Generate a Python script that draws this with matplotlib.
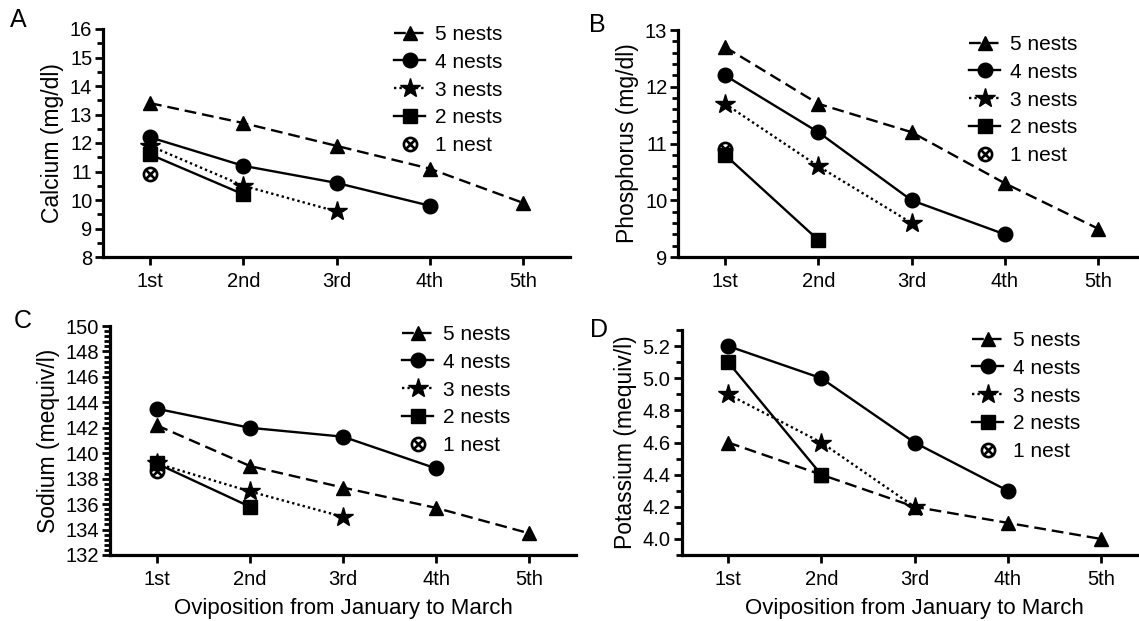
import matplotlib
matplotlib.use('Agg')
import matplotlib.pyplot as plt
from matplotlib.path import Path
from matplotlib.ticker import MultipleLocator, FormatStrFormatter, FixedLocator

plt.rcParams['font.family'] = ['Liberation Sans', 'DejaVu Sans']

# ---------------- data ----------------
ordinals = ['1st', '2nd', '3rd', '4th', '5th']
nest_labels = ['5 nests', '4 nests', '3 nests', '2 nests', '1 nest']

calcium_5 = [13.4, 12.7, 11.9, 11.1, 9.9]
calcium_4 = [12.2, 11.2, 10.6, 9.8]
calcium_3 = [11.9, 10.5, 9.6]
calcium_2 = [11.6, 10.2]
calcium_1 = [10.9]

phosphorus_5 = [12.7, 11.7, 11.2, 10.3, 9.5]
phosphorus_4 = [12.2, 11.2, 10.0, 9.4]
phosphorus_3 = [11.7, 10.6, 9.6]
phosphorus_2 = [10.8, 9.3]
phosphorus_1 = [10.9]

sodium_5 = [142.2, 139.0, 137.3, 135.7, 133.7]
sodium_4 = [143.5, 142.0, 141.3, 138.8]
sodium_3 = [139.2, 137.0, 135.0]
sodium_2 = [139.2, 135.8]
sodium_1 = [138.6]

potassium_5 = [4.6, 4.4, 4.2, 4.1, 4.0]
potassium_4 = [5.2, 5.0, 4.6, 4.3]
potassium_3 = [4.9, 4.6, 4.2]
potassium_2 = [5.1, 4.4]
potassium_1 = []

# ---------------- figure ----------------
W, H, DPI = 1139, 621, 100
fig = plt.figure(figsize=(W / DPI, H / DPI), dpi=DPI)


def rect(left, right, top, bottom):
    return [left / W, 1 - bottom / H, (right - left) / W, (bottom - top) / H]


# circle with an x inside
_circ = Path.unit_circle()
_d = 0.7071
_cross = Path([(-_d, -_d), (_d, _d), (-_d, _d), (_d, -_d)],
              [Path.MOVETO, Path.LINETO, Path.MOVETO, Path.LINETO])
otimes = Path.make_compound_path(_circ, _cross)

styles = [
    dict(marker='^', ls=(0, (5, 2.5)), ms=10),
    dict(marker='o', ls='-', ms=10.5),
    dict(marker='*', ls=(0, (1, 1.3)), ms=14.5),
    dict(marker='s', ls='-', ms=9.5),
    dict(marker=otimes, ls='none', ms=9.5, mfc='none', mew=1.9),
]

panels = [
    dict(rect=rect(103.4, 569.6, 29, 257), ylim=(8, 16), major=1, minor=0.5,
         fmt='%d', ylabel='Calcium (mg/dl)', letter='A', letter_xy=(18, 20),
         series=[calcium_5, calcium_4, calcium_3, calcium_2, calcium_1],
         leg=(394, 25), xlabel=False),
    dict(rect=rect(678.4, 1144.6, 30, 257), ylim=(9, 13), major=1, minor=0.2,
         fmt='%d', ylabel='Phosphorus (mg/dl)', letter='B', letter_xy=(597, 25),
         series=[phosphorus_5, phosphorus_4, phosphorus_3, phosphorus_2, phosphorus_1],
         leg=(969, 35), xlabel=False),
    dict(rect=rect(110, 576, 326, 555), ylim=(132, 150), major=2, minor=0.4,
         fmt='%d', ylabel='Sodium (mequiv/l)', letter='C', letter_xy=(23, 321),
         series=[sodium_5, sodium_4, sodium_3, sodium_2, sodium_1],
         leg=(402, 325), xlabel=True),
    dict(rect=rect(681.5, 1147.5, 330, 555), ylim=(3.9, 5.3), major=0.2, minor=0.1,
         fmt='%.1f', ylabel='Potassium (mequiv/l)', letter='D', letter_xy=(599, 330),
         series=[potassium_5, potassium_4, potassium_3, potassium_2, potassium_1],
         leg=(972, 331), xlabel=True),
]

for p in panels:
    ax = fig.add_axes(p['rect'])
    for vals, lab, st in zip(p['series'], nest_labels, styles):
        xs = list(range(1, len(vals) + 1))
        kw = dict(color='black', lw=1.7, ls=st['ls'], marker=st['marker'],
                  ms=st['ms'], mfc=st.get('mfc', 'black'), mec='black',
                  mew=st.get('mew', 1.0), label=lab, clip_on=False)
        ax.plot(xs, vals, **kw)
    ax.set_xlim(0.5, 5.5)
    ax.set_ylim(*p['ylim'])
    ax.set_xticks(range(1, 6))
    ax.set_xticklabels(ordinals)
    if p['letter'] == 'D':
        ax.yaxis.set_major_locator(FixedLocator([4.0, 4.2, 4.4, 4.6, 4.8, 5.0, 5.2]))
    else:
        ax.yaxis.set_major_locator(MultipleLocator(p['major']))
    ax.yaxis.set_minor_locator(MultipleLocator(p['minor']))
    ax.yaxis.set_major_formatter(FormatStrFormatter(p['fmt']))
    for s in ('top', 'right'):
        ax.spines[s].set_visible(False)
    for s in ('left', 'bottom'):
        ax.spines[s].set_linewidth(2.3)
    ax.tick_params(axis='both', which='major', length=6, width=2.0,
                   labelsize=14.5, pad=2, direction='out')
    ax.tick_params(axis='y', which='minor', length=4, width=2.0, direction='out')
    ax.tick_params(axis='x', which='major', pad=5)
    ax.set_ylabel(p['ylabel'], fontsize=16.5, labelpad=4)
    if p['xlabel']:
        ax.set_xlabel('Oviposition from January to March', fontsize=16, labelpad=6)
    fig.text(p['letter_xy'][0] / W, 1 - p['letter_xy'][1] / H, p['letter'],
             fontsize=18, ha='center', va='center')
    lx, ly = p['leg']
    ax.legend(loc='upper left', bbox_to_anchor=(lx / W, 1 - ly / H),
              bbox_transform=fig.transFigure, frameon=False, fontsize=15,
              handlelength=1.5, handletextpad=0.45, labelspacing=0.42,
              borderpad=0, borderaxespad=0, numpoints=1)

fig.savefig('out.png', dpi=DPI)
